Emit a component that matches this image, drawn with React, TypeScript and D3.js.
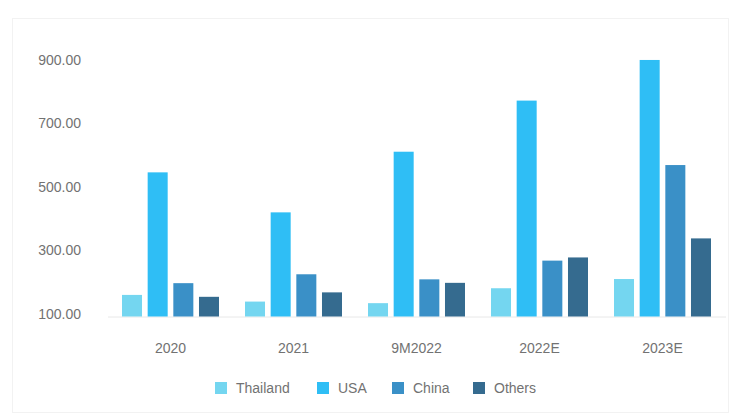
import React from "react";
import * as d3 from "d3";

const categories = ["2020", "2021", "9M2022", "2022E", "2023E"];
const seriesNames = ["Thailand", "USA", "China", "Others"];
const thailand = [168, 147, 142, 189, 218];
const usa = [554, 428, 619, 780, 908];
const china = [205, 233, 217, 276, 577];
const others = [162, 176, 206, 286, 346];
const yTicks = [100, 300, 500, 700, 900];
const colors = ["#74d6f0", "#2fbef5", "#3a90c7", "#356b8f"];

export default function App() {
  const W = 732;
  const H = 418;
  const values = [thailand, usa, china, others];
  const x0 = d3.scaleBand<string>().domain(categories).range([109, 724]).paddingInner(0).paddingOuter(0);
  const x1 = d3.scaleBand<string>().domain(seriesNames).range([0, 97]).paddingInner(0.22);
  const y = d3.scaleLinear().domain([100, 900]).range([316.5, 62.5]);
  const groupOffset = (x0.bandwidth() - 97) / 2;
  const legendX = [215, 317, 392, 473];
  const font = "'Liberation Sans', Arial, Helvetica, sans-serif";
  const textColor = "#727272";

  return (
    <svg width={W} height={H} style={{ position: "absolute", left: 0, top: 0, background: "#fff" }} fontFamily={font}>
      <rect x={12.5} y={18.5} width={716} height={394} fill="#fff" stroke="#f2f2f2" />
      {yTicks.map((t) => (
        <text key={t} x={81} y={y(t) - 3} textAnchor="end" dominantBaseline="central" fontSize={14} fill={textColor}>
          {d3.format(".2f")(t)}
        </text>
      ))}
      <line x1={108} x2={726} y1={y(100) + 0.5} y2={y(100) + 0.5} stroke="#e8e8e8" />
      {categories.map((c, i) => (
        <g key={c} transform={`translate(${(x0(c) ?? 0) + groupOffset},0)`}>
          {seriesNames.map((s, j) => (
            <rect
              key={s}
              x={x1(s)}
              y={y(values[j][i])}
              width={x1.bandwidth()}
              height={y(100) - y(values[j][i])}
              fill={colors[j]}
            />
          ))}
        </g>
      ))}
      {categories.map((c) => (
        <text key={c} x={(x0(c) ?? 0) + x0.bandwidth() / 2} y={348} textAnchor="middle" dominantBaseline="central" fontSize={14} fill={textColor}>
          {c}
        </text>
      ))}
      {seriesNames.map((s, j) => (
        <g key={s} transform={`translate(${legendX[j]},388)`}>
          <rect x={0} y={-6} width={12} height={12} fill={colors[j]} />
          <text x={21} y={0} dominantBaseline="central" fontSize={14} fill={textColor}>
            {s}
          </text>
        </g>
      ))}
    </svg>
  );
}
